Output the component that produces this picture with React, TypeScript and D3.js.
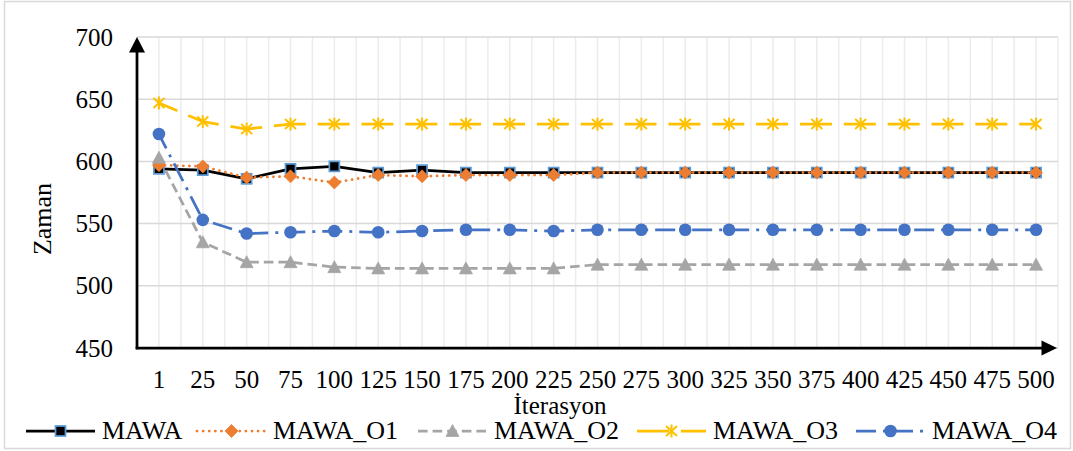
import React from 'react';
import * as d3 from 'd3';

// Iteration checkpoints on the x axis
const iterations = ['1', '25', '50', '75', '100', '125', '150', '175', '200', '225', '250', '275', '300', '325', '350', '375', '400', '425', '450', '475', '500'];

// Time (Zaman) per iteration for each variant
const mawa = [594, 593, 586, 594, 596, 591, 593, 591, 591, 591, 591, 591, 591, 591, 591, 591, 591, 591, 591, 591, 591];
const mawaO1 = [597, 596, 587, 588, 583, 589, 588, 589, 589, 589, 591, 591, 591, 591, 591, 591, 591, 591, 591, 591, 591];
const mawaO2 = [603, 535, 519, 519, 515, 514, 514, 514, 514, 514, 517, 517, 517, 517, 517, 517, 517, 517, 517, 517, 517];
const mawaO3 = [647, 632, 626, 630, 630, 630, 630, 630, 630, 630, 630, 630, 630, 630, 630, 630, 630, 630, 630, 630, 630];
const mawaO4 = [622, 553, 542, 543, 544, 543, 544, 545, 545, 544, 545, 545, 545, 545, 545, 545, 545, 545, 545, 545, 545];

const seriesNames = ['MAWA', 'MAWA_O1', 'MAWA_O2', 'MAWA_O3', 'MAWA_O4'];
const yTicks = [450, 500, 550, 600, 650, 700];

type MarkerKind = 'square' | 'diamond' | 'triangle' | 'star' | 'circle';

interface Style {
  color: string;
  width: number;
  dash?: string;
  offset?: number;
  cap?: 'round' | 'butt';
  marker: MarkerKind;
}

const styles: Style[] = [
  { color: '#000000', width: 2.75, marker: 'square' },
  { color: '#ED7D31', width: 2.75, dash: '0.1 6', cap: 'round', marker: 'diamond' },
  { color: '#A5A5A5', width: 2.75, dash: '9.6 5', marker: 'triangle' },
  { color: '#FFC000', width: 2.75, dash: '32 11.85', offset: 12, marker: 'star' },
  { color: '#4472C4', width: 2.75, dash: '20 7 3 7', offset: 4, marker: 'circle' },
];

const FONT = 'Liberation Serif, Times New Roman, DejaVu Serif, serif';
const txt: React.CSSProperties = { fontFamily: FONT };

function Marker({ kind, x, y }: { kind: MarkerKind; x: number; y: number }) {
  switch (kind) {
    case 'square':
      return <rect x={x - 5} y={y - 5} width={10} height={10} fill="#000" stroke="#5B9BD5" strokeWidth={1.75} />;
    case 'diamond':
      return <path d={`M${x},${y - 6.5}L${x + 6.5},${y}L${x},${y + 6.5}L${x - 6.5},${y}Z`} fill="#ED7D31" stroke="#ED7D31" strokeWidth={0.75} />;
    case 'triangle':
      return <path d={`M${x},${y - 6.5}L${x + 6.5},${y + 5.5}L${x - 6.5},${y + 5.5}Z`} fill="#A5A5A5" stroke="#A5A5A5" strokeWidth={0.75} />;
    case 'star':
      return (
        <g stroke="#FFC000" strokeWidth={2}>
          <line x1={x} y1={y - 6.5} x2={x} y2={y + 6.5} />
          <line x1={x - 5.5} y1={y - 5} x2={x + 5.5} y2={y + 5} />
          <line x1={x - 5.5} y1={y + 5} x2={x + 5.5} y2={y - 5} />
        </g>
      );
    case 'circle':
      return <circle cx={x} cy={y} r={6.3} fill="#4472C4" />;
  }
}

export default function App() {
  const W = 1073;
  const H = 451;
  const left = 137;
  const right = 1058;
  const top = 37;
  const bottom = 348;

  const x = d3.scaleBand<string>().domain(iterations).range([left, right]).padding(0);
  const y = d3.scaleLinear().domain([450, 700]).range([bottom, top]);
  const bw = x.bandwidth();
  const cx = (c: string) => (x(c) as number) + bw / 2;

  const allSeries = [mawa, mawaO1, mawaO2, mawaO3, mawaO4];
  const line = d3
    .line<number>()
    .x((_, i) => cx(iterations[i]))
    .y((d) => y(d));

  // Vertical gridlines at band edges and centres
  const vLines: number[] = [];
  iterations.forEach((c) => {
    vLines.push(x(c) as number);
    vLines.push(cx(c));
  });
  vLines.push(right);

  const legendTextX = [102, 273, 494, 713, 932];
  const legendY = 431;

  return (
    <svg width={W} height={H} style={{ position: 'absolute', left: 0, top: 0, background: '#fff' }}>
      <rect x={0} y={0} width={W} height={H} fill="#fff" />
      <rect x={4.5} y={1.5} width={1066} height={447} fill="#fff" stroke="#d9d9d9" strokeWidth={1.5} />

      {/* gridlines */}
      {vLines.map((vx, i) => (
        <line key={`v${i}`} x1={vx} x2={vx} y1={top} y2={bottom} stroke="#ececec" strokeWidth={1.5} />
      ))}
      {yTicks.map((t) => (
        <line key={`h${t}`} x1={left} x2={right} y1={y(t)} y2={y(t)} stroke="#d9d9d9" strokeWidth={1.5} />
      ))}

      {/* y tick labels */}
      {yTicks.map((t) => (
        <text key={`yl${t}`} x={113} y={y(t) + 8.6} textAnchor="end" fontSize={25} fill="#000" style={txt}>
          {t}
        </text>
      ))}

      {/* x tick labels */}
      {iterations.map((c) => (
        <text key={`xl${c}`} x={cx(c)} y={387.5} textAnchor="middle" fontSize={25} fill="#000" style={txt}>
          {c}
        </text>
      ))}

      {/* axis titles */}
      <text x={560} y={413.5} textAnchor="middle" fontSize={25} fill="#000" style={txt}>
        İterasyon
      </text>
      <text transform="translate(51,219) rotate(-90)" textAnchor="middle" fontSize={26} fill="#000" style={txt}>
        Zaman
      </text>

      {/* series lines */}
      {allSeries.map((vals, si) => {
        const s = styles[si];
        return (
          <path
            key={`l${si}`}
            d={line(vals) || ''}
            fill="none"
            stroke={s.color}
            strokeWidth={s.width}
            strokeDasharray={s.dash}
            strokeDashoffset={s.offset}
            strokeLinecap={s.cap || 'butt'}
            strokeLinejoin="round"
          />
        );
      })}

      {/* series markers */}
      {allSeries.map((vals, si) => (
        <g key={`m${si}`}>
          {vals.map((v, i) => (
            <Marker key={i} kind={styles[si].marker} x={cx(iterations[i])} y={y(v)} />
          ))}
        </g>
      ))}

      {/* axes with arrowheads */}
      <line x1={left} x2={left} y1={bottom + 1.3} y2={top + 14} stroke="#000" strokeWidth={2.75} />
      <path d={`M${left},${top}L${left + 8},${top + 15.5}L${left - 8},${top + 15.5}Z`} fill="#000" />
      <line x1={left - 1.3} x2={right - 14} y1={bottom} y2={bottom} stroke="#000" strokeWidth={2.75} />
      <path d={`M${right - 1},${bottom}L${right - 16.5},${bottom - 7.5}L${right - 16.5},${bottom + 7.5}Z`} fill="#000" />

      {/* legend */}
      {seriesNames.map((name, si) => {
        const s = styles[si];
        const tx = legendTextX[si];
        return (
          <g key={`lg${si}`}>
            <line
              x1={tx - 76}
              x2={tx - 7}
              y1={legendY}
              y2={legendY}
              stroke={s.color}
              strokeWidth={s.width}
              strokeDasharray={s.dash}
              strokeLinecap={s.cap || 'butt'}
            />
            <Marker kind={s.marker} x={tx - 41.5} y={legendY} />
            <text x={tx} y={439} fontSize={26} fill="#000" style={txt}>
              {name}
            </text>
          </g>
        );
      })}
    </svg>
  );
}
